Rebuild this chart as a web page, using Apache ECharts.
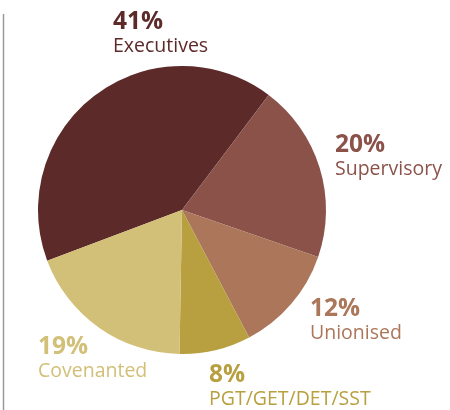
<!DOCTYPE html>
<html>
<head>
<meta charset="utf-8">
<script src="https://cdn.jsdelivr.net/npm/echarts@6/dist/echarts.min.js"></script>
<style>
  html, body { margin: 0; padding: 0; background: #fff; }
  #chart { width: 450px; height: 410px; }
</style>
</head>
<body>
<div id="chart"></div>
<script>
// categories and shares (%)
const categories = ['Executives', 'Supervisory', 'Unionised', 'PGT/GET/DET/SST', 'Covenanted'];
const shares = [41, 20, 12, 8, 19];
const colors = ['#5c2a28', '#8b524a', '#ab7659', '#b8a040', '#d2c078'];

// where each label block sits (top-left)
const labelPos = [[113, 9], [335, 132], [310, 296], [209, 362], [38, 334]];

const chart = echarts.init(document.getElementById('chart'));

const option = {
  animation: false,
  graphic: [{
    type: 'line',
    shape: { x1: 3.5, y1: 14, x2: 3.5, y2: 410 },
    style: { stroke: '#9a9a9a', lineWidth: 1.5 }
  }],
  series: [{
    type: 'pie',
    center: [182, 210],
    radius: 144,
    startAngle: 200.6,
    clockwise: true,
    labelLine: { show: false },
    itemStyle: { borderWidth: 0 },
    emphasis: { disabled: true },
    data: categories.map((c, i) => ({
      name: c,
      value: shares[i],
      itemStyle: { color: colors[i] },
      label: { color: colors[i] }
    })),
    label: {
      show: true,
      position: 'outside',
      overflow: 'none',
      width: 220,
      fontFamily: 'Open Sans',
      fontSize: 19.5,
      formatter: p => '{p|' + p.value + '%}\n{n|' + p.name + '}',
      rich: {
        p: { fontSize: 24.5, fontWeight: 'bold', lineHeight: 26, fontFamily: 'Open Sans' },
        n: { fontSize: 19.5, lineHeight: 22, fontFamily: 'Open Sans' }
      }
    },
    labelLayout: p => ({
      x: labelPos[p.dataIndex][0],
      y: labelPos[p.dataIndex][1],
      align: 'left',
      verticalAlign: 'top'
    })
  }]
};

chart.setOption(option);
</script>
</body>
</html>
